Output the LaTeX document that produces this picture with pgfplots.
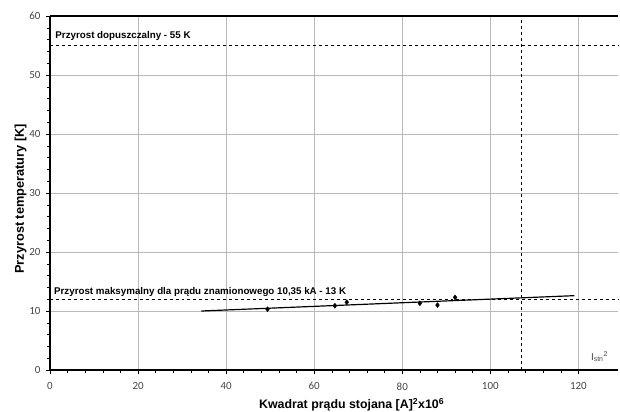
\documentclass[border=0pt]{standalone}
\usepackage{pgfplots}
\pgfplotsset{compat=1.18}
\usepackage{fontspec}
\setmainfont{Liberation Sans}
\newfontfamily\calibri{Carlito}
\definecolor{tickgray}{RGB}{70,70,70}
\begin{document}
\begin{tikzpicture}
\begin{axis}[
  width=568bp, height=354bp, scale only axis,
  xmin=0, xmax=129, ymin=0, ymax=60,
  xtick={0,20,...,120}, ytick={0,10,...,60},
  minor x tick num=4, minor y tick num=4,
  grid=major, grid style={gray!55, line width=0.6pt},
  axis x line*=bottom, axis y line*=left,
  axis line style={line width=1.6pt, -},
  tick align=outside,
  major tick length=4bp, minor tick length=3bp,
  tick style={black, line width=0.5pt},
  tick label style={font=\calibri\fontsize{11}{12}\selectfont, text=tickgray},
  xticklabel style={yshift=-5bp},
  yticklabel style={xshift=-2bp},
  /pgf/number format/assume math mode=true,
  clip=false,
]
\useasboundingbox ([xshift=-50bp,yshift=-42bp]rel axis cs:0,0) rectangle ([xshift=2bp,yshift=16bp]rel axis cs:1,1);
\draw[line width=1.6pt] (rel axis cs:0,1) -- (rel axis cs:1,1);
% limit lines
\addplot[black, dashed, line width=0.7pt] coordinates {(0,55) (129,55)};
\addplot[black, dashed, line width=0.7pt] coordinates {(0,12) (129,12)};
\addplot[black, dashed, line width=0.9pt] coordinates {(107,0) (107,60)};
% trend line
\addplot[black, line width=1.2pt] coordinates {(34.4,10.0) (119.1,12.6)};
% measurements
\addplot[only marks, mark=diamond*, mark size=2.5pt, black] coordinates {
  (49.4,10.3) (64.7,10.9) (67.4,11.5) (84.0,11.3) (88.0,11.0) (92.0,12.3)
};
\node[anchor=base west, font=\fontsize{9.8}{11}\selectfont\bfseries, inner sep=0pt] at (axis cs:1.2,56.2) {Przyrost dopuszczalny - 55 K};
\node[anchor=base west, font=\fontsize{9.8}{11}\selectfont\bfseries, inner sep=0pt] at (axis cs:0.9,12.8) {Przyrost maksymalny dla prądu znamionowego 10,35 kA - 13 K};
\node[font=\fontsize{10}{11}\selectfont, text=tickgray] at (axis cs:124.8,2.2) {I\textsubscript{stn}\textsuperscript{2}};
% axis titles
\node[anchor=base, font=\fontsize{12.4}{13}\selectfont\bfseries] at ([yshift=-38.5bp]axis cs:68.5,0) {Kwadrat prądu stojana [A]\textsuperscript{2}x10\textsuperscript{6}};
\node[anchor=base, rotate=90, font=\fontsize{12.8}{13}\selectfont\bfseries] at ([xshift=-26bp]axis cs:0,29) {Przyrost temperatury [K]};
\end{axis}
\end{tikzpicture}
\end{document}
